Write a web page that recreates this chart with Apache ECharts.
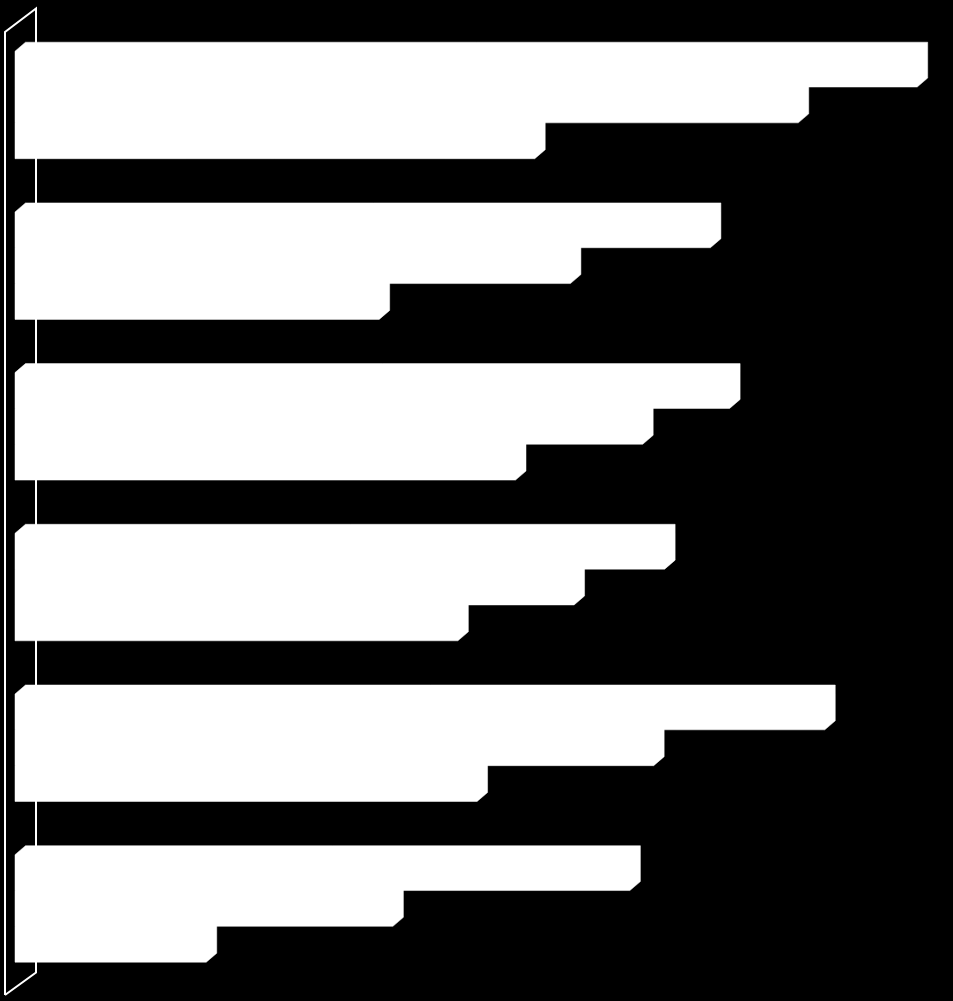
<!DOCTYPE html>
<html>
<head>
<meta charset="utf-8">
<script src="https://cdn.jsdelivr.net/npm/echarts@6/dist/echarts.min.js"></script>
<style>
html,body{margin:0;padding:0;background:#000;}
#chart{width:953px;height:1001px;}
</style>
</head>
<body>
<div id="chart"></div>
<script>
const categories = ['1', '2', '3', '4', '5', '6'];
const series1 = [98.6, 76.0, 78.1, 71.0, 88.5, 67.2];
const series2 = [85.6, 60.7, 68.6, 61.1, 69.8, 41.3];
const series3 = [56.8, 39.8, 54.7, 48.4, 50.5, 20.9];
const seriesNames = ['Series 1', 'Series 2', 'Series 3'];
const allSeries = [series1, series2, series3];

const GAP = 0.331;   // category gap fraction
const DX = 10.5;     // 3D depth x
const DY = 9;        // 3D depth y

function renderBox(params, api) {
  const cat = api.value(1);
  const val = api.value(0);
  const p0 = api.coord([0, cat]);
  const p1 = api.coord([val, cat]);
  const band = api.size([0, 1])[1];
  const barH = band * (1 - GAP) / 3;
  const k = params.seriesIndex;
  const yt = p0[1] - 1.5 * barH + k * barH;
  const yb = yt + barH;
  const x0 = p0[0], x1 = p1[0];
  const pts = [
    [x0, yt], [x0 + DX, yt - DY], [x1 + DX, yt - DY],
    [x1 + DX, yb - DY], [x1, yb], [x0, yb]
  ];
  return { type: 'polygon', shape: { points: pts }, style: { fill: '#ffffff', stroke: '#ffffff', lineWidth: 0.5 } };
}

const chart = echarts.init(document.getElementById('chart'));
chart.setOption({
  backgroundColor: '#000000',
  animation: false,
  grid: { left: 15, right: 23, top: 24.6, height: 964.2 },
  xAxis: { type: 'value', min: 0, max: 100, show: false },
  yAxis: { type: 'category', data: categories, inverse: true, show: false },
  graphic: [
    { type: 'polyline', z: 0, shape: { points: [[5, 995], [5, 32], [36, 8.5], [36, 972.5], [5, 995]] },
      style: { stroke: '#ffffff', lineWidth: 2, fill: null } }
  ],
  series: allSeries.map((arr, i) => ({
    type: 'custom',
    name: seriesNames[i],
    z: 5,
    renderItem: renderBox,
    encode: { x: 0, y: 1 },
    data: arr.map((v, j) => [v, j])
  }))
});
</script>
</body>
</html>
